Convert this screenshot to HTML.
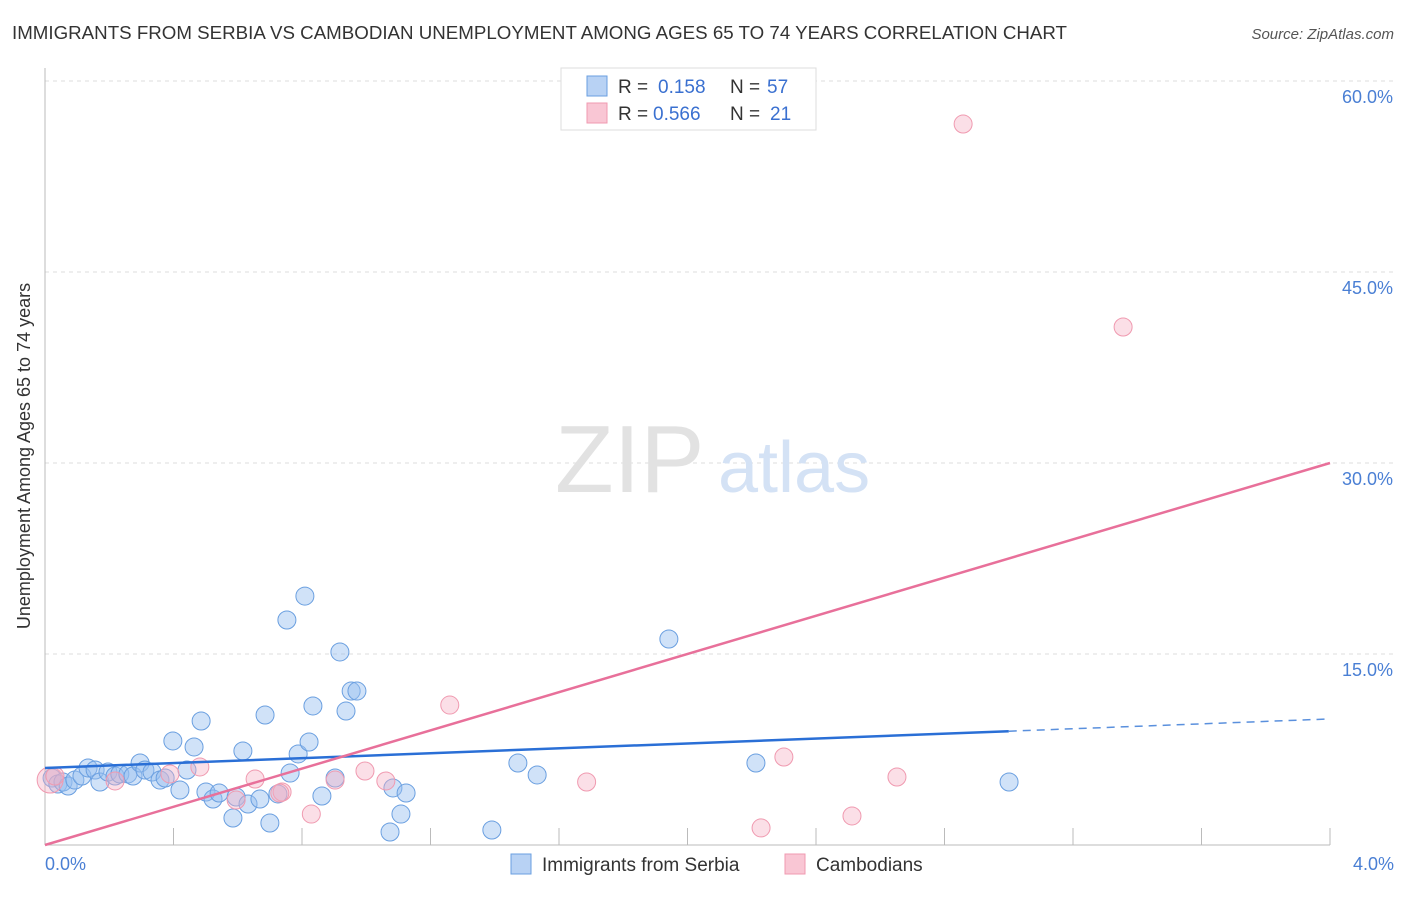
<!DOCTYPE html>
<html><head><meta charset="utf-8"><style>
body{margin:0;background:#fff;font-family:"Liberation Sans",sans-serif}
svg text{font-family:"Liberation Sans",sans-serif}
</style></head><body>
<svg width="1406" height="892" xmlns="http://www.w3.org/2000/svg">
<text x="12" y="39" font-size="18" fill="#333" textLength="1055" lengthAdjust="spacingAndGlyphs">IMMIGRANTS FROM SERBIA VS CAMBODIAN UNEMPLOYMENT AMONG AGES 65 TO 74 YEARS CORRELATION CHART</text>
<text x="1394" y="39" font-size="15" fill="#555" font-style="italic" text-anchor="end">Source: ZipAtlas.com</text>
<g id="grid"></g>
<text x="555" y="492" font-size="96" fill="#e2e2e2" font-family="Liberation Serif">ZIP</text>
<text x="718" y="492" font-size="72" fill="#d4e2f5">atlas</text>
<g id="pts"></g>
<g id="lines"></g>
<text x="30" y="456" font-size="18" fill="#333" text-anchor="middle" transform="rotate(-90 30 456)">Unemployment Among Ages 65 to 74 years</text>
<text x="45" y="870" font-size="18" fill="#4a7fd4">0.0%</text>
<text x="1394" y="870" font-size="18" fill="#4a7fd4" text-anchor="end">4.0%</text>
<g>
<rect x="561" y="68" width="255" height="62" fill="#fff" stroke="#ddd"/>
<rect x="587" y="76" width="20" height="20" fill="#b8d2f4" stroke="#6a9fe0"/>
<text x="618" y="93" font-size="19" fill="#333">R =</text>
<text x="658" y="93" font-size="19" fill="#3a70d0">0.158</text>
<text x="730" y="93" font-size="19" fill="#333">N =</text>
<text x="767" y="93" font-size="19" fill="#3a70d0">57</text>
<rect x="587" y="103" width="20" height="20" fill="#f9c6d4" stroke="#f09ab0"/>
<text x="618" y="120" font-size="19" fill="#333">R =</text>
<text x="653" y="120" font-size="19" fill="#3a70d0">0.566</text>
<text x="730" y="120" font-size="19" fill="#333">N =</text>
<text x="770" y="120" font-size="19" fill="#3a70d0">21</text>
</g>
<g>
<rect x="511" y="854" width="20" height="20" fill="#b8d2f4" stroke="#6a9fe0"/>
<text x="542" y="871" font-size="19" fill="#333">Immigrants from Serbia</text>
<rect x="785" y="854" width="20" height="20" fill="#f9c6d4" stroke="#f09ab0"/>
<text x="816" y="871" font-size="19" fill="#333">Cambodians</text>
</g>
</svg>
<script>
const yTicks=[15,30,45,60];
const yTickLabels=["15.0%","30.0%","45.0%","60.0%"];
const xTicks=[0.4,0.8,1.2,1.6,2.0,2.4,2.8,3.2,3.6,4.0];
const serbiaX=[.022,.040,.056,.072,.093,.115,.134,.156,.171,.196,.218,.233,.258,.274,.296,.311,.333,.358,.374,.420,.398,.442,.464,.486,.501,.523,.542,.585,.595,.616,.632,.669,.685,.700,.725,.753,.763,.788,.809,.822,.834,.862,.903,.918,.937,.953,.971,1.074,1.083,1.108,1.124,1.391,1.472,1.532,1.942,2.213,3.001];
const serbiaY=[5.26,4.79,4.95,4.63,5.10,5.42,6.05,5.89,4.95,5.73,5.42,5.58,5.58,5.42,6.44,5.89,5.73,5.10,5.26,4.32,8.17,5.89,7.70,9.74,4.16,3.61,4.08,2.12,3.77,7.38,3.22,3.61,10.21,1.73,4.01,17.67,5.65,7.15,19.55,8.09,10.92,3.85,5.26,15.16,10.52,12.09,12.09,1.02,4.48,2.43,4.08,1.18,6.44,5.50,16.18,6.44,4.95];
const cambX=[.016,.031,.218,.389,.482,.595,.654,.738,.829,.903,.996,1.061,1.260,1.686,2.229,2.300,2.512,2.652,2.858,3.356,.731];
const cambY=[5.10,5.42,5.03,5.58,6.13,3.53,5.18,4.16,2.43,5.10,5.81,5.03,10.99,4.95,1.34,6.91,2.28,5.34,56.62,40.68,4.08];
const serbiaTrend=[6.05,9.9];
const serbiaSolidEnd=3.0;
const cambTrend=[0,30];
const NS="http://www.w3.org/2000/svg";
const X=v=>45+v*321.25, Y=v=>845-v*191/15;
function mk(t,a,p){const e=document.createElementNS(NS,t);for(const k in a)e.setAttribute(k,a[k]);p.appendChild(e);return e;}
const grid=document.getElementById('grid');
yTicks.forEach((t,i)=>{
 const l=mk('line',{x1:45,x2:1393,y1:Y(t),y2:Y(t),stroke:'#ddd','stroke-dasharray':'4,4'},grid);
 
 
 const tx=mk('text',{x:1393,y:Y(t)+22,'font-size':18,fill:'#4a7fd4','text-anchor':'end'},grid);
 tx.textContent=yTickLabels[i];
 
 
});
mk('line',{x1:45,x2:45,y1:68,y2:845,stroke:'#bbb'},grid);
mk('line',{x1:45,x2:1330,y1:845,y2:845,stroke:'#bbb'},grid);
xTicks.forEach(t=>{
 const l=mk('line',{x1:X(t),x2:X(t),y1:828,y2:845,stroke:'#bbb'},grid);
 
 
});
const pts=document.getElementById('pts');
serbiaX.forEach((x,i)=>{
 const c=mk('circle',{cx:X(x),cy:Y(serbiaY[i]),r:9,fill:'rgba(150,190,240,0.45)',stroke:'#6a9fe0','stroke-width':1},pts);
 
 
});
cambX.forEach((x,i)=>{
 const c=mk('circle',{cx:X(x),cy:Y(cambY[i]),r:i==0?13:9,fill:'rgba(245,175,195,0.4)',stroke:'#f09ab0','stroke-width':1},pts);
 
 
});
const ln=document.getElementById('lines');
const sy=x=>serbiaTrend[0]+(serbiaTrend[1]-serbiaTrend[0])*x/4;
let a=mk('line',{x1:X(0),y1:Y(sy(0)),x2:X(serbiaSolidEnd),y2:Y(sy(serbiaSolidEnd)),stroke:'#2a6fd6','stroke-width':2.5},ln);


a=mk('line',{x1:X(serbiaSolidEnd),y1:Y(sy(serbiaSolidEnd)),x2:X(4),y2:Y(sy(4)),stroke:'#5a90dd','stroke-width':1.5,'stroke-dasharray':'8,6'},ln);


a=mk('line',{x1:X(0),y1:Y(cambTrend[0]),x2:X(4),y2:Y(cambTrend[1]),stroke:'#e8709a','stroke-width':2.5},ln);


</script>
</body></html>
